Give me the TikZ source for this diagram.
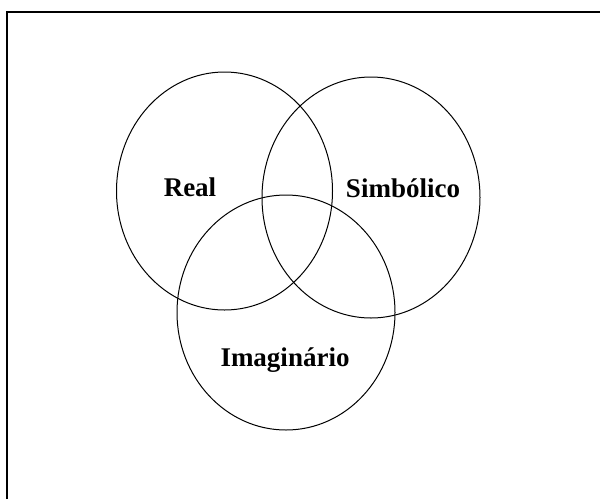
\documentclass[tikz,border=0pt]{standalone}
\usepackage{fontspec}
\setmainfont{Liberation Serif}
\usepackage{tikz}
\usetikzlibrary{positioning}

\tikzset{
  ring/.style={draw=black, line width=1pt},
  ringlabel/.style={font=\fontsize{27}{30}\selectfont\bfseries, inner sep=0pt}
}

\begin{document}
\begin{tikzpicture}[x=1pt, y=-1pt]
    \useasboundingbox (0,0) rectangle (600,499);
    % Frame (top and left edges only)
    \draw[line width=2pt] (7,499) -- (7,12) -- (600,12);

    % Circles
    \draw[ring] (224.5,191) ellipse [x radius=108, y radius=119];
    \draw[ring] (371,197.5) ellipse [x radius=109, y radius=120.5];
    \draw[ring] (286,312.5) ellipse [x radius=109, y radius=117.5];

    % Labels
    \node[ringlabel] (real) at (190,187) {Real};
    \node[ringlabel] (simb) at (403,188) {Simbólico};
    \node[ringlabel] (imag) at (285,360) {Imaginário};
\end{tikzpicture}
\end{document}
